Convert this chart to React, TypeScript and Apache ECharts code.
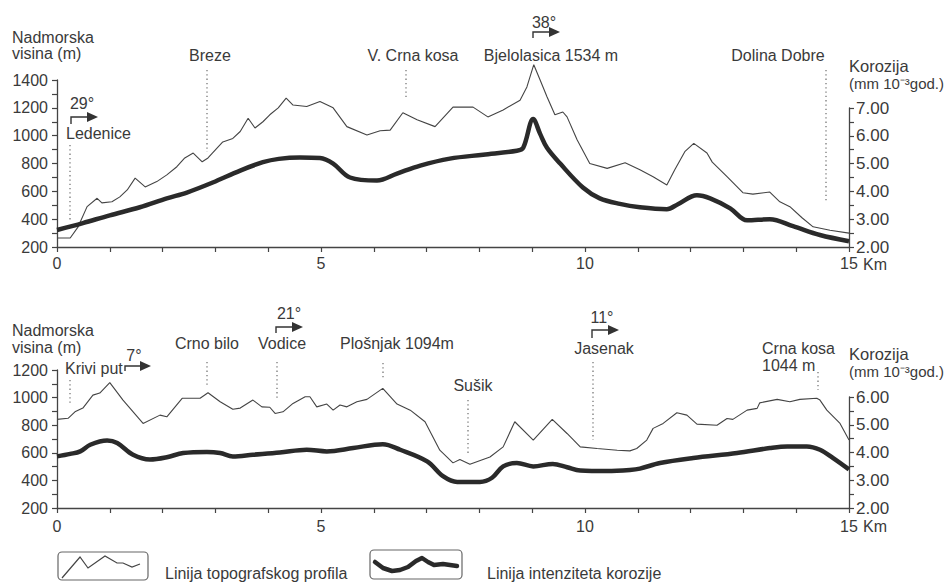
import React, { useEffect, useRef } from "react";
import * as echarts from "echarts";

// ---- Data: upper profile (Ledenice – Dolina Dobre) ----
const topTopoKm = [0, 0.25, 0.4, 0.57, 0.76, 0.85, 1.04, 1.19, 1.33, 1.48, 1.67, 1.89, 2.08, 2.27, 2.42, 2.58, 2.75, 2.86, 3.03, 3.14, 3.33, 3.47, 3.62, 3.75, 3.9, 4.03, 4.19, 4.34, 4.47, 4.73, 4.98, 5.23, 5.49, 5.87, 6.12, 6.31, 6.55, 6.82, 7.16, 7.5, 7.88, 8.16, 8.45, 8.77, 8.9, 9.03, 9.15, 9.28, 9.43, 9.58, 9.66, 9.85, 10.09, 10.42, 10.76, 11.04, 11.29, 11.55, 11.7, 11.89, 12.06, 12.31, 12.41, 12.69, 12.99, 13.18, 13.5, 13.69, 13.88, 14.11, 14.32, 14.64, 15];
const topTopoElev = [265, 265, 345, 490, 550, 517, 525, 560, 610, 695, 632, 670, 718, 777, 840, 875, 812, 840, 910, 955, 980, 1030, 1125, 1055, 1100, 1150, 1200, 1270, 1220, 1210, 1245, 1200, 1065, 1005, 1035, 1040, 1165, 1115, 1065, 1205, 1205, 1135, 1185, 1255, 1350, 1510, 1400, 1280, 1150, 1170, 1135, 970, 800, 765, 805, 755, 705, 645, 755, 885, 945, 875, 810, 705, 590, 580, 595, 525, 490, 410, 345, 320, 300];
const topCorrKm = [0, 0.49, 1.0, 1.57, 2.08, 2.46, 2.95, 3.47, 3.9, 4.2, 4.6, 4.98, 5.23, 5.55, 6.06, 6.44, 6.88, 7.44, 8.07, 8.71, 8.83, 9.02, 9.15, 9.28, 9.53, 9.96, 10.28, 10.66, 11.04, 11.55, 11.76, 12.12, 12.37, 12.75, 13.07, 13.5, 13.94, 14.45, 15];
const topCorr = [2.61, 2.86, 3.14, 3.43, 3.75, 3.96, 4.32, 4.75, 5.05, 5.17, 5.22, 5.2, 5.0, 4.5, 4.39, 4.64, 4.93, 5.18, 5.32, 5.46, 5.57, 6.6, 6.07, 5.57, 5.0, 4.14, 3.75, 3.55, 3.43, 3.36, 3.54, 3.86, 3.75, 3.39, 2.96, 3.0, 2.75, 2.43, 2.21];

// ---- Data: lower profile (Krivi put – Crna kosa) ----
const botTopoKm = [0, 0.21, 0.34, 0.49, 0.68, 0.81, 1.0, 1.25, 1.63, 1.95, 2.08, 2.37, 2.71, 2.86, 3.09, 3.33, 3.47, 3.71, 3.88, 4.03, 4.13, 4.28, 4.47, 4.7, 4.79, 4.92, 5.11, 5.23, 5.36, 5.49, 5.68, 5.87, 6.17, 6.44, 6.69, 6.97, 7.25, 7.5, 7.63, 7.82, 8.2, 8.45, 8.67, 9.02, 9.38, 9.66, 9.91, 10.23, 10.61, 10.85, 10.98, 11.17, 11.29, 11.48, 11.74, 11.93, 12.12, 12.5, 12.69, 12.8, 13.07, 13.26, 13.31, 13.64, 13.88, 14.07, 14.39, 14.45, 14.58, 14.83, 15];
const botTopoElev = [842, 850, 897, 924, 1018, 1033, 1108, 982, 813, 873, 861, 995, 995, 1035, 970, 915, 924, 982, 933, 930, 885, 897, 958, 1006, 1006, 933, 953, 909, 946, 933, 970, 987, 1067, 953, 909, 825, 619, 527, 551, 517, 570, 643, 825, 692, 842, 740, 643, 631, 619, 614, 631, 692, 777, 813, 890, 873, 808, 800, 849, 842, 909, 922, 962, 987, 970, 987, 995, 982, 909, 813, 692];
const botCorrKm = [0, 0.25, 0.44, 0.63, 0.95, 1.14, 1.44, 1.76, 2.08, 2.39, 2.84, 3.09, 3.33, 3.71, 4.22, 4.73, 5.11, 5.61, 6.17, 6.5, 7.01, 7.31, 7.58, 8.01, 8.24, 8.45, 8.71, 9.02, 9.39, 9.66, 9.91, 10.42, 10.85, 11.04, 11.42, 12.05, 12.88, 13.5, 13.83, 14.2, 14.45, 14.7, 15];
const botCorr = [3.86, 3.95, 4.04, 4.28, 4.43, 4.34, 3.92, 3.75, 3.83, 3.98, 4.02, 3.98, 3.86, 3.92, 4.0, 4.1, 4.04, 4.16, 4.3, 4.1, 3.68, 3.15, 2.94, 2.94, 3.09, 3.5, 3.62, 3.5, 3.59, 3.47, 3.35, 3.33, 3.37, 3.42, 3.62, 3.8, 3.98, 4.16, 4.22, 4.22, 4.1, 3.8, 3.39];

const xLabelKm = [0, 5, 10, 15];
const topElevRange = [200, 1400];
const topCorrRange = [2, 7];
const botElevRange = [200, 1200];
const botCorrRange = [2, 6];

const FONT = '"Liberation Sans", Arial, sans-serif';
const INK = "#3a3a3a";
const AX = "#444";

const pairs = (xs: number[], ys: number[]) => xs.map((x, i) => [x, ys[i]]);

function txt(text: string, x: number, y: number, align = "left", size = 16) {
  return {
    type: "text",
    x,
    y,
    style: {
      text,
      fill: INK,
      font: `${size}px ${FONT}`,
      textAlign: align,
      textVerticalAlign: "middle",
      align,
      verticalAlign: "middle",
    },
  };
}

function dots(x: number, y1: number, y2: number) {
  return {
    type: "line",
    shape: { x1: x, y1, x2: x, y2 },
    style: { stroke: "#777", lineWidth: 1.3, lineDash: [1.3, 3] },
  };
}

function arrow(x: number, yLow: number, yArrow: number, xEnd: number) {
  return [
    {
      type: "polyline",
      shape: { points: [[x, yLow], [x, yArrow], [xEnd, yArrow]] },
      style: { stroke: "#333", lineWidth: 1.4, fill: null },
    },
    {
      type: "polygon",
      shape: { points: [[xEnd - 1, yArrow - 5], [xEnd + 10, yArrow], [xEnd - 1, yArrow + 5]] },
      style: { fill: "#333" },
    },
  ];
}

function xAxisCfg(gridIndex: number, margin: number) {
  return {
    type: "value",
    gridIndex,
    min: 0,
    max: 15,
    interval: 1,
    axisLine: { show: true, onZero: false, lineStyle: { color: AX, width: 1.3 } },
    axisTick: { show: true, length: 5, lineStyle: { color: AX, width: 1.2 } },
    axisLabel: {
      margin,
      fontSize: 16,
      fontFamily: FONT,
      color: INK,
      formatter: (v: number) => (xLabelKm.includes(v) ? String(v) : ""),
    },
    splitLine: { show: false },
  };
}

function hiddenX(gridIndex: number) {
  return { type: "value", gridIndex, min: 0, max: 15, show: false, splitLine: { show: false } };
}

function leftY(gridIndex: number, range: number[]) {
  return {
    type: "value",
    gridIndex,
    position: "left",
    min: range[0],
    max: range[1],
    interval: 200,
    axisLine: { show: true, onZero: false, lineStyle: { color: AX, width: 1.3 } },
    axisTick: { show: true, length: 5, lineStyle: { color: AX, width: 1.2 } },
    minorTick: { show: true, splitNumber: 2, length: 5, lineStyle: { color: AX, width: 1.2 } },
    axisLabel: {
      margin: 9,
      fontSize: 16,
      fontFamily: FONT,
      color: INK,
      formatter: (v: number) => String(v),
    },
    splitLine: { show: false },
  };
}

function rightY(gridIndex: number, range: number[]) {
  return {
    type: "value",
    gridIndex,
    position: "right",
    min: range[0],
    max: range[1],
    interval: 1,
    axisLine: { show: true, onZero: false, lineStyle: { color: AX, width: 1.3 } },
    axisTick: { show: true, length: 5, lineStyle: { color: AX, width: 1.2 } },
    minorTick: { show: true, splitNumber: 2, length: 5, lineStyle: { color: AX, width: 1.2 } },
    axisLabel: {
      margin: 7,
      fontSize: 17,
      fontFamily: FONT,
      color: INK,
      formatter: (v: number) => v.toFixed(2),
    },
    splitLine: { show: false },
  };
}

export default function App() {
  const ref = useRef<HTMLDivElement>(null);
  useEffect(() => {
    if (!ref.current) return;
    const chart = echarts.init(ref.current, undefined, { renderer: "svg" });
    const graphic: any[] = [
      // upper chart
      txt("Nadmorska", 12, 37),
      txt("visina (m)", 12, 53),
      txt("29°", 82, 103, "center"),
      ...arrow(71, 124, 117, 88),
      txt("Ledenice", 66, 133),
      dots(70, 145, 220),
      txt("Breze", 210, 55, "center"),
      dots(207, 70, 152),
      txt("V. Crna kosa", 413, 55, "center"),
      dots(406, 70, 100),
      txt("Bjelolasica 1534 m", 551, 55, "center"),
      txt("38°", 544, 22, "center"),
      ...arrow(533, 38, 32, 550),
      txt("Dolina Dobre", 778, 55, "center"),
      dots(826, 70, 202),
      txt("Korozija", 849, 66, "left", 16.5),
      txt("(mm 10⁻³god.)", 849, 83, "left", 15),
      txt("Km", 863, 264),
      // lower chart
      txt("Nadmorska", 12, 330),
      txt("visina (m)", 12, 347),
      txt("Krivi put", 65, 368),
      dots(70, 380, 403),
      txt("7°", 134, 355, "center"),
      ...arrow(125, 371, 366, 141),
      txt("Crno bilo", 207, 343, "center"),
      dots(207, 362, 387),
      txt("21°", 289, 313, "center"),
      ...arrow(276, 333, 327, 293),
      txt("Vodice", 282, 343, "center"),
      dots(277, 362, 400),
      txt("Plošnjak 1094m", 397, 343, "center"),
      dots(383, 363, 378),
      txt("Sušik", 473, 385, "center"),
      dots(468, 400, 453),
      txt("11°", 602, 317, "center"),
      ...arrow(592, 338, 330, 609),
      txt("Jasenak", 604, 348, "center"),
      dots(593, 362, 440),
      txt("Crna kosa", 762, 348),
      txt("1044 m", 762, 365),
      dots(818, 372, 390),
      txt("Korozija", 849, 354, "left", 16.5),
      txt("(mm 10⁻³god.)", 849, 371, "left", 15),
      txt("Km", 863, 526),
      // legend
      {
        type: "rect",
        shape: { x: 58, y: 552, width: 90, height: 28, r: 4 },
        style: { stroke: "#666", lineWidth: 1.2, fill: "none" },
      },
      {
        type: "polyline",
        shape: {
          points: [[62, 578], [80, 557], [88, 568], [105, 556], [117, 563], [123, 563], [132, 567], [140, 564]],
        },
        style: { stroke: "#444", lineWidth: 1.2, fill: null },
      },
      txt("Linija topografskog profila", 165, 573),
      {
        type: "rect",
        shape: { x: 370, y: 550, width: 92, height: 29, r: 4 },
        style: { stroke: "#666", lineWidth: 1.2, fill: "none" },
      },
      {
        type: "polyline",
        shape: {
          points: [[375, 562], [383, 568], [392, 571], [400, 570], [408, 567], [416, 561], [422, 558], [428, 562], [434, 565], [443, 564], [457, 566]],
        },
        style: { stroke: "#2a2a2a", lineWidth: 4.5, fill: null, lineCap: "round", lineJoin: "round" },
      },
      txt("Linija intenziteta korozije", 487, 573),
    ];

    chart.setOption({
      animation: false,
      backgroundColor: "#ffffff",
      grid: [
        { left: 57, width: 792, top: 80, height: 167 },
        { left: 57, width: 792, top: 108, height: 139 },
        { left: 57, width: 792, top: 370, height: 138 },
        { left: 57, width: 792, top: 397, height: 111 },
      ],
      xAxis: [xAxisCfg(0, 8), hiddenX(1), xAxisCfg(2, 10), hiddenX(3)],
      yAxis: [leftY(0, topElevRange), rightY(1, topCorrRange), leftY(2, botElevRange), rightY(3, botCorrRange)],
      series: [
        {
          type: "line",
          name: "Linija topografskog profila",
          xAxisIndex: 0,
          yAxisIndex: 0,
          data: pairs(topTopoKm, topTopoElev),
          showSymbol: false,
          clip: false,
          lineStyle: { color: "#444", width: 1.1 },
        },
        {
          type: "line",
          name: "Linija intenziteta korozije",
          xAxisIndex: 1,
          yAxisIndex: 1,
          data: pairs(topCorrKm, topCorr),
          showSymbol: false,
          smooth: 0.35,
          clip: false,
          lineStyle: { color: "#2a2a2a", width: 4.5 },
        },
        {
          type: "line",
          name: "Linija topografskog profila",
          xAxisIndex: 2,
          yAxisIndex: 2,
          data: pairs(botTopoKm, botTopoElev),
          showSymbol: false,
          clip: false,
          lineStyle: { color: "#444", width: 1.1 },
        },
        {
          type: "line",
          name: "Linija intenziteta korozije",
          xAxisIndex: 3,
          yAxisIndex: 3,
          data: pairs(botCorrKm, botCorr),
          showSymbol: false,
          smooth: 0.35,
          clip: false,
          lineStyle: { color: "#2a2a2a", width: 4.5 },
        },
      ],
      graphic,
    });
    return () => chart.dispose();
  }, []);

  return (
    <div
      ref={ref}
      style={{ position: "fixed", left: 0, top: 0, width: 949, height: 582, background: "#fff" }}
    />
  );
}
